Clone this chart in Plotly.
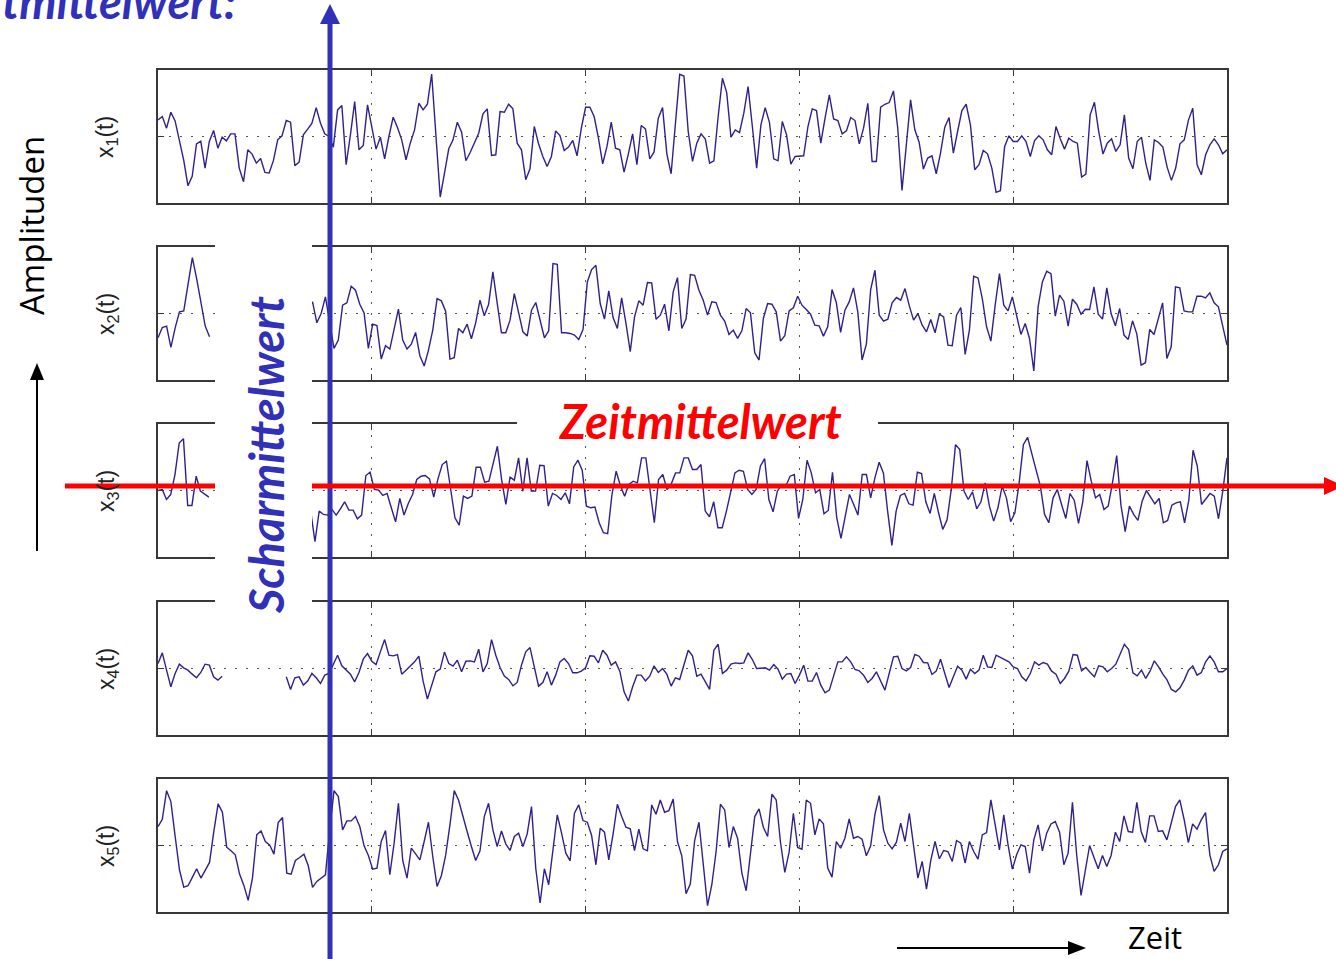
import numpy as np
import plotly.graph_objects as go

W, H = 1336, 959

# ---------------- data (amplitudes) ----------------
x1_vals = [0.25,0.30,0.125,0.365,0.235,-0.05,-0.35,-0.74,-0.6,-0.11,-0.07,-0.475,-0.075,0.09,-0.175,-0.01,-0.065,0.04,0.04,-0.475,-0.68,-0.2,-0.265,-0.4,-0.33,-0.54,-0.55,-0.36,-0.05,0.01,0.24,0.215,-0.44,-0.385,0.025,0.11,0.2,0.435,0.2,0.04,0.0,-0.16,0.4,0.465,-0.425,0.025,0.525,-0.2,-0.135,0.475,0.15,-0.19,-0.01,-0.335,0.0,0.29,0.135,-0.05,-0.35,-0.1,0.1,0.5,0.4,0.485,0.94,0.05,-0.91,-0.55,-0.185,-0.05,0.215,0.065,-0.365,-0.24,-0.1,0.05,0.34,0.415,-0.285,-0.275,0.375,0.365,0.485,0.415,-0.1,-0.2,-0.65,-0.485,0.15,-0.11,-0.3,-0.45,-0.3,0.085,0.015,-0.21,-0.16,-0.06,-0.29,0.125,0.44,0.44,0.3,-0.025,
           -0.41,-0.15,0.215,-0.175,-0.2,-0.535,-0.26,0.04,-0.425,0.165,0.115,-0.335,-0.235,0.275,0.435,-0.26,-0.56,0.15,0.935,0.91,0.075,-0.375,-0.1,0.04,-0.04,-0.4,-0.365,0.3,0.875,0.66,-0.01,0.1,0.06,0.35,0.75,0.15,-0.475,0.175,0.435,0.21,-0.335,-0.365,0.225,0.025,-0.415,-0.3,-0.3,-0.29,0.15,0.415,0.39,-0.1,0.275,0.625,0.265,0.24,0.04,0.085,0.285,0.24,-0.11,0.125,0.5,-0.375,-0.375,0.44,0.485,0.51,0.685,0.125,-0.81,-0.125,0.55,0.1,-0.085,-0.49,-0.325,-0.29,-0.56,-0.25,0.14,0.285,-0.25,0.075,0.39,0.485,0.175,-0.5,-0.425,-0.21,-0.26,-0.475,-0.84,-0.815,-0.15,0.01,-0.075,-0.075,0.01,-0.075,-0.3,-0.06,0.01,-0.05,-0.2,-0.275,0.15,-0.035,-0.19,-0.025,-0.075,-0.1,-0.61,-0.565,0.325,0.515,0.075,-0.265,-0.1,-0.035,-0.225,-0.125,0.325,-0.325,-0.485,-0.075,-0.01,-0.4,-0.66,-0.05,-0.09,-0.16,-0.46,-0.66,-0.475,-0.11,-0.05,0.25,0.425,-0.425,-0.575,-0.275,-0.125,-0.035,-0.125,-0.26,-0.2]

x2_left = [-0.365,-0.21,-0.19,-0.51,-0.215,0.025,0.04,0.45,0.84,0.525,0.175,-0.19,-0.35]
x2_hidden = 22
x2_right = [0.075,0.175,-0.14,0.0,0.25,-0.15,-0.525,-0.4,0.125,0.16,0.41,0.35,0.14,0.01,-0.525,-0.16,-0.18,-0.685,-0.485,-0.535,-0.235,0.065,-0.4,-0.535,-0.46,-0.285,-0.635,-0.79,-0.55,-0.25,0.225,0.19,0.035,-0.685,-0.665,-0.225,-0.29,-0.16,-0.38,-0.14,0.2,-0.035,0.135,0.625,0.16,-0.29,-0.29,-0.1,0.3,0.0,-0.275,-0.34,0.05,0.165,-0.1,-0.365,-0.26,0.75,0.74,-0.29,-0.29,-0.3,-0.325,-0.39,-0.24,0.475,0.66,0.725,
            0.15,-0.085,0.34,-0.06,-0.225,0.235,-0.15,-0.575,-0.05,0.19,0.125,0.465,0.46,-0.085,-0.025,0.14,-0.26,0.325,0.54,-0.225,-0.085,0.585,0.575,0.35,0.2,-0.025,0.175,0.165,-0.025,-0.115,-0.315,-0.25,-0.375,-0.26,0.075,0.01,-0.59,-0.7,-0.075,0.15,0.14,0.025,-0.415,-0.335,0.04,0.085,0.26,0.125,0.06,-0.01,-0.175,-0.185,-0.34,-0.2,0.36,0.165,-0.285,0.05,0.175,0.385,0.025,-0.7,-0.46,0.36,0.65,-0.025,-0.115,-0.085,0.16,0.24,0.2,0.375,0.115,-0.1,0.0,-0.175,-0.275,-0.09,-0.29,-0.01,-0.05,-0.475,-0.485,-0.025,0.09,-0.615,-0.25,0.56,0.535,0.225,-0.2,-0.415,0.125,0.6,0.125,0.04,0.25,-0.025,-0.315,-0.15,-0.375,-0.865,0.1,0.475,0.635,0.6,-0.04,0.275,0.185,-0.19,0.215,0.14,-0.01,0.065,0.06,0.4,-0.01,-0.085,0.385,0.0,-0.185,0.075,-0.325,-0.39,-0.11,-0.31,-0.775,-0.74,-0.24,-0.315,-0.075,0.16,-0.675,-0.5,0.4,0.385,0.04,0.025,0.025,0.26,0.26,0.235,0.31,0.16,0.1,-0.175,-0.475]

x3_left = [0.0,0.015,-0.135,-0.06,0.24,0.715,0.78,-0.225,-0.225,0.215,-0.01,-0.06,-0.1]
x3_hidden = 22
x3_right = [-0.21,-0.31,-0.77,-0.31,-0.36,-0.37,-0.285,-0.37,-0.275,-0.17,-0.295,-0.295,-0.425,-0.37,0.225,0.275,0.015,0.005,-0.075,-0.045,-0.26,-0.47,-0.12,-0.37,-0.195,-0.06,0.165,0.215,0.225,0.175,-0.1,0.175,0.39,0.44,0.015,-0.41,-0.52,-0.085,-0.12,-0.085,0.35,0.35,0.125,0.14,0.405,0.665,0.165,-0.21,0.2,0.155,0.49,-0.01,0.49,-0.01,-0.01,0.38,0.375,-0.235,-0.045,-0.075,-0.135,-0.035,-0.2,0.355,0.455,0.305,-0.235,-0.26,-0.25,-0.485,
            -0.635,-0.65,-0.07,0.29,0.075,-0.085,0.09,0.14,0.115,0.49,0.49,-0.01,-0.485,0.165,0.24,0.015,0.1,0.265,0.265,0.49,0.49,0.315,0.315,0.39,-0.31,-0.395,-0.17,-0.56,-0.56,-0.31,0.0,0.265,0.305,0.29,0.015,-0.06,0.015,0.365,0.48,-0.135,-0.32,-0.01,0.09,0.065,0.215,0.24,-0.42,-0.135,0.455,0.265,-0.035,0.015,-0.35,-0.3,0.275,-0.41,-0.72,-0.36,-0.06,-0.21,-0.37,0.24,0.24,-0.11,0.19,0.425,0.265,-0.31,-0.825,-0.31,-0.075,-0.045,-0.2,-0.22,0.275,0.255,-0.17,-0.345,-0.045,-0.335,-0.585,-0.445,0.015,0.69,0.615,-0.01,-0.135,-0.02,-0.275,-0.17,0.115,-0.235,-0.46,-0.26,0.065,-0.11,-0.47,-0.335,0.115,0.69,0.8,0.55,0.315,0.065,-0.36,-0.485,-0.11,0.015,-0.21,-0.42,-0.045,-0.15,-0.495,-0.17,0.45,0.14,-0.11,-0.06,-0.285,-0.235,0.115,0.525,-0.22,-0.62,-0.235,-0.36,-0.45,-0.16,0.0,-0.1,-0.2,-0.12,-0.485,-0.45,-0.22,-0.185,-0.17,-0.485,-0.145,0.605,0.365,-0.21,-0.135,-0.045,-0.085,-0.425,-0.01,0.49]

x4_left = [0.075,0.235,-0.025,-0.275,-0.075,0.065,0.01,-0.025,-0.085,-0.14,-0.06,0.065,0.05,-0.125,-0.175,-0.115]
x4_hidden = 14
x4_right = [-0.125,-0.315,-0.14,-0.125,-0.25,-0.19,-0.075,-0.14,-0.225,-0.1,-0.075,0.06,0.2,0.04,-0.025,-0.085,-0.2,-0.06,0.14,0.225,0.11,0.06,0.25,0.435,0.2,0.19,0.21,-0.085,-0.025,0.035,0.1,0.185,-0.19,-0.46,-0.25,-0.05,-0.01,0.25,0.075,0.035,0.125,-0.05,0.11,0.115,0.1,0.29,-0.05,0.075,0.435,0.2,0.015,-0.115,-0.165,-0.26,-0.21,0.05,0.25,0.315,0.025,-0.265,-0.21,-0.05,-0.25,-0.1,0.1,0.15,0.075,-0.065,-0.065,-0.04,0.01,0.19,0.185,0.085,
            0.275,0.2,0.05,0.1,-0.04,-0.35,-0.49,-0.275,-0.1,-0.1,-0.185,-0.115,0.04,-0.06,0.0,-0.085,-0.265,-0.14,-0.165,0.04,0.275,0.19,-0.115,-0.085,-0.19,-0.315,0.275,0.365,-0.075,-0.025,0.065,0.085,0.075,0.085,0.235,0.135,0.0,0.0,0.01,-0.025,0.06,-0.01,-0.16,-0.085,-0.075,-0.225,-0.1,0.05,-0.19,-0.19,-0.06,-0.25,-0.365,-0.325,-0.1,0.1,0.1,0.175,0.1,-0.015,-0.035,-0.1,-0.21,-0.15,-0.05,-0.175,-0.325,-0.075,0.175,0.185,0.0,-0.035,0.015,0.21,0.185,0.09,0.085,-0.09,-0.04,0.14,-0.06,-0.285,-0.125,0.035,-0.025,-0.16,-0.01,-0.075,-0.025,0.2,0.025,0.015,0.2,0.165,0.125,0.1,0.025,0.0,-0.125,-0.185,-0.075,0.1,0.05,0.09,0.065,-0.04,-0.085,-0.225,-0.15,-0.04,0.21,0.2,-0.035,0.015,-0.06,-0.125,0.04,0.025,-0.05,0.0,0.065,0.21,0.365,0.285,-0.065,-0.11,-0.025,-0.15,-0.04,0.115,0.025,-0.085,-0.175,-0.315,-0.35,-0.29,-0.175,-0.025,0.04,-0.1,-0.06,0.1,0.19,0.1,-0.05,-0.05,0.0]

x5_vals = [0.285,0.395,0.825,0.66,0.135,-0.365,-0.625,-0.605,-0.48,-0.35,-0.49,-0.375,-0.255,0.21,0.625,0.5,-0.025,-0.08,-0.14,-0.43,-0.6,-0.825,-0.49,0.16,0.22,0.06,0.01,-0.13,0.345,0.42,-0.415,-0.43,-0.225,-0.18,-0.13,-0.305,-0.63,-0.54,-0.49,-0.44,0.235,0.825,0.735,0.235,0.37,0.37,0.435,0.285,-0.005,-0.15,-0.355,-0.34,0.06,0.225,-0.44,0.035,0.635,-0.225,-0.49,-0.04,-0.125,-0.215,0.06,0.35,-0.165,-0.615,-0.455,-0.15,0.31,0.825,0.685,0.435,0.21,-0.015,-0.225,-0.08,0.435,0.635,0.235,-0.015,0.22,0.025,-0.075,0.135,0.185,-0.015,0.175,0.585,-0.35,-0.865,-0.35,-0.59,-0.105,0.46,0.185,-0.115,-0.23,0.485,0.61,0.375,0.35,0.15,-0.29,
           0.26,0.2,-0.215,0.17,0.62,0.435,0.275,0.25,-0.075,0.245,-0.05,-0.08,0.61,0.47,0.685,0.5,0.525,0.7,0.06,-0.155,-0.725,-0.575,0.075,0.35,-0.315,-0.905,-0.59,-0.09,0.62,0.535,-0.03,0.285,0.11,-0.415,-0.68,-0.115,0.435,0.55,0.275,0.135,0.77,0.685,0.045,-0.405,-0.1,0.485,-0.03,-0.055,0.685,0.635,0.16,0.4,0.325,-0.34,-0.475,0.06,-0.04,0.11,0.4,0.11,0.135,0.095,-0.155,-0.005,0.47,0.75,0.235,0.035,-0.05,0.05,0.335,0.06,0.485,-0.005,-0.49,-0.24,-0.655,-0.225,0.06,-0.2,-0.075,-0.09,-0.24,0.075,0.035,-0.265,0.06,-0.09,-0.205,0.16,0.195,0.685,0.335,-0.065,0.46,0.01,-0.355,-0.14,0.01,-0.015,-0.415,0.085,0.31,-0.08,0.185,0.325,0.36,0.2,-0.29,-0.115,0.65,-0.15,-0.75,-0.39,0.0,-0.175,-0.35,-0.15,-0.315,-0.15,0.2,0.06,0.445,0.21,0.2,0.65,0.21,0.045,0.445,0.445,0.21,0.22,0.085,0.335,0.585,0.685,0.395,0.045,0.325,0.245,0.385,0.495,-0.14,-0.39,-0.29,-0.09,-0.05]

row_labels = ["x<sub>1</sub>(t)", "x<sub>2</sub>(t)", "x<sub>3</sub>(t)", "x<sub>4</sub>(t)", "x<sub>5</sub>(t)"]
x_grid_ticks = [0.2, 0.4, 0.6, 0.8]
y_ticks = [0]

series = [
    x1_vals,
    x2_left + [None] * x2_hidden + x2_right,
    x3_left + [None] * x3_hidden + x3_right,
    x4_left + [None] * x4_hidden + x4_right,
    x5_vals,
]

# ---------------- layout helpers (pixel -> paper) ----------------
def px(x):
    return x / W

def py(y):
    return 1 - y / H

row_tops = [70, 247, 424, 602, 779]
row_h = 133
x_left, x_right = 158, 1227

SIG = "#30218a"
FRAME = "#383838"
BLUE = "#3030b8"
RED = "#ff0000"

fig = go.Figure()
layout = dict(
    width=W, height=H, margin=dict(l=0, r=0, t=0, b=0),
    paper_bgcolor="white", plot_bgcolor="white", showlegend=False,
)

for i, yv in enumerate(series):
    k = "" if i == 0 else str(i + 1)
    t = np.linspace(0, 1, len(yv))
    fig.add_trace(go.Scatter(x=t, y=yv, mode="lines",
                             line=dict(color=SIG, width=1.4),
                             xaxis="x" + k, yaxis="y" + k, hoverinfo="skip"))
    top = row_tops[i]
    common = dict(showline=True, linecolor=FRAME, linewidth=1.6, mirror="allticks",
                  ticks="inside", ticklen=6, tickwidth=1.4, tickcolor=FRAME,
                  showticklabels=False, showgrid=True, gridcolor="#555555",
                  gridwidth=1, griddash="2px,9px", zeroline=False, fixedrange=True)
    layout["xaxis" + k] = dict(common, domain=[px(x_left), px(x_right)], range=[0, 1],
                               tickvals=x_grid_ticks, anchor="y" + k)
    layout["yaxis" + k] = dict(common, domain=[py(top + row_h), py(top)], range=[-1, 1],
                               tickvals=y_ticks, anchor="x" + k)

fig.update_layout(**layout)

shapes = []
# blue vertical line (Scharmittelwert) with arrow head
shapes.append(dict(type="line", xref="paper", yref="paper", x0=px(330), x1=px(330),
                   y0=py(20), y1=py(965), line=dict(color=BLUE, width=5), layer="above"))
shapes.append(dict(type="path", xref="paper", yref="paper",
                   path=f"M {px(320)},{py(24)} L {px(330)},{py(4)} L {px(340)},{py(24)} Z",
                   fillcolor=BLUE, line=dict(width=0), layer="above"))
# red horizontal line (Zeitmittelwert) with arrow head
shapes.append(dict(type="line", xref="paper", yref="paper", x0=px(65), x1=px(1330),
                   y0=py(486), y1=py(486), line=dict(color=RED, width=5), layer="above"))
shapes.append(dict(type="path", xref="paper", yref="paper",
                   path=f"M {px(1324)},{py(477)} L {px(1344)},{py(486)} L {px(1324)},{py(495)} Z",
                   fillcolor=RED, line=dict(width=0), layer="above"))
# white text backgrounds
shapes.append(dict(type="rect", xref="paper", yref="paper", x0=px(215), x1=px(312),
                   y0=py(614), y1=py(238), fillcolor="white", line=dict(width=0), layer="above"))
shapes.append(dict(type="rect", xref="paper", yref="paper", x0=px(517), x1=px(878),
                   y0=py(432), y1=py(400), fillcolor="white", line=dict(width=0), layer="above"))
# Amplituden arrow
shapes.append(dict(type="line", xref="paper", yref="paper", x0=px(37), x1=px(37),
                   y0=py(551), y1=py(376), line=dict(color="black", width=2), layer="above"))
shapes.append(dict(type="path", xref="paper", yref="paper",
                   path=f"M {px(30)},{py(380)} L {px(37)},{py(363)} L {px(44)},{py(380)} Z",
                   fillcolor="black", line=dict(width=0), layer="above"))
# Zeit arrow
shapes.append(dict(type="line", xref="paper", yref="paper", x0=px(897), x1=px(1072),
                   y0=py(948), y1=py(948), line=dict(color="black", width=2), layer="above"))
shapes.append(dict(type="path", xref="paper", yref="paper",
                   path=f"M {px(1068)},{py(941)} L {px(1086)},{py(948)} L {px(1068)},{py(955)} Z",
                   fillcolor="black", line=dict(width=0), layer="above"))
fig.update_layout(shapes=shapes)

ann = []
for i, lab in enumerate(row_labels):
    ann.append(dict(text=lab, xref="paper", yref="paper", x=px(107), y=py(row_tops[i] + 67),
                    xanchor="center", yanchor="middle", textangle=-90, showarrow=False,
                    font=dict(family="Liberation Sans, Arial", size=23, color="#222222")))
ann.append(dict(text="Amplituden", xref="paper", yref="paper", x=px(32), y=py(226),
                xanchor="center", yanchor="middle", textangle=-90, showarrow=False,
                font=dict(family="Open Sans", size=33, color="black")))
ann.append(dict(text="Zeit", xref="paper", yref="paper", x=px(1155), y=py(959),
                xanchor="center", yanchor="bottom", showarrow=False, borderpad=0,
                font=dict(family="Open Sans", size=31, color="black")))
ann.append(dict(text="<b><i>Scharmittelwert</i></b>", xref="paper", yref="paper",
                x=px(266), y=py(455), xanchor="center", yanchor="middle", textangle=-90,
                showarrow=False, font=dict(family="Lato", size=47, color=BLUE)))
ann.append(dict(text="<b><i>Zeitmittelwert</i></b>", xref="paper", yref="paper",
                x=px(700), y=py(421), xanchor="center", yanchor="middle",
                showarrow=False, font=dict(family="Lato", size=47, color=RED)))
ann.append(dict(text="<b><i>tmittelwert:</i></b>", xref="paper", yref="paper",
                x=px(0), y=py(31), xanchor="left", yanchor="bottom",
                showarrow=False, font=dict(family="Lato", size=47, color=BLUE)))
fig.update_layout(annotations=ann)

fig.write_html("out.html")
